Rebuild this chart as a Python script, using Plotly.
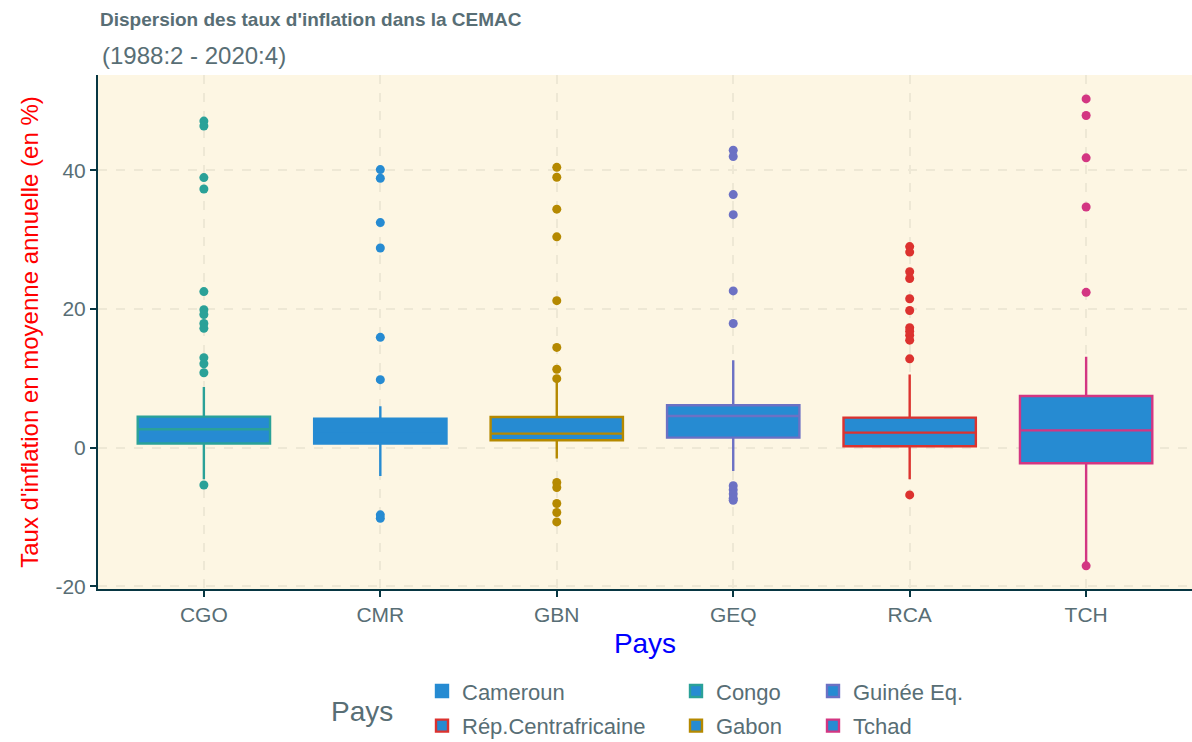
import plotly.graph_objects as go

# Country codes on the x axis and their display names
codes = ["CGO", "CMR", "GBN", "GEQ", "RCA", "TCH"]
names = ["Congo", "Cameroun", "Gabon", "Guinée Eq.", "Rép.Centrafricaine", "Tchad"]
outline = ["#2aa198", "#268bd2", "#b58900", "#6c71c4", "#dc322f", "#d33682"]

# Box statistics (annual average inflation, %)
q1 = [0.58, 0.58, 1.05, 1.44, 0.19, -2.26]
median = [2.64, 2.30, 2.02, 4.55, 2.16, 2.49]
q3 = [4.47, 4.18, 4.41, 6.10, 4.32, 7.44]
lowerfence = [-4.57, -4.09, -1.59, -3.37, -4.57, -16.5]
upperfence = [8.73, 5.95, 9.37, 12.6, 10.56, 13.1]

# Outlying observations per country
out_cgo = [47.1, 46.4, 38.95, 37.3, 22.5, 19.9, 19.2, 17.9, 17.2, 12.97, 12.1, 10.8, -5.4]
out_cmr = [40.1, 38.85, 32.46, 28.8, 15.9, 9.8, -9.7, -10.2]
out_gbn = [40.43, 39.0, 34.4, 30.4, 21.2, 14.45, 11.3, 9.94, -5.04, -5.76, -8.07, -9.37, -10.72]
out_geq = [42.9, 42.0, 36.5, 33.6, 22.6, 17.9, -5.5, -6.1, -6.7, -7.3, -7.6]
out_rca = [29.0, 28.2, 25.36, 24.4, 21.47, 19.78, 17.3, 16.8, 16.2, 15.5, 12.8, -6.83]
out_tch = [50.3, 47.9, 41.8, 34.7, 22.4, -17.06]
outliers = [out_cgo, out_cmr, out_gbn, out_geq, out_rca, out_tch]

# Y tick labels
y_ticks = [-20, 0, 20, 40]
y_ticklabels = ["-20", "0", "20", "40"]

# Legend layout: one small legend per column
legend_cols = {"Cameroun": "legend", "Rép.Centrafricaine": "legend",
               "Congo": "legend2", "Gabon": "legend2",
               "Guinée Eq.": "legend3", "Tchad": "legend3"}
legend_order = ["Cameroun", "Rép.Centrafricaine", "Congo", "Gabon", "Guinée Eq.", "Tchad"]

FILL = "#268bd2"
TXT = "#586e75"
AXIS = "#073642"
GRID = "#eee8d5"
BG = "#fdf6e3"
FONT = "Liberation Sans, Arial, sans-serif"

fig = go.Figure()

for name in legend_order:
    i = names.index(name)
    fig.add_trace(go.Box(
        x=[codes[i]], q1=[q1[i]], median=[median[i]], q3=[q3[i]],
        lowerfence=[lowerfence[i]], upperfence=[upperfence[i]],
        name=name, legend=legend_cols[name], legendgroup=name,
        legendrank=legend_order.index(name) + 1,
        fillcolor=FILL, line=dict(color=outline[i], width=2.4),
        width=0.75, whiskerwidth=0, boxpoints=False, hoverinfo="skip",
    ))

for i, code in enumerate(codes):
    fig.add_trace(go.Scatter(
        x=[code] * len(outliers[i]), y=outliers[i], mode="markers",
        marker=dict(color=outline[i], size=9), showlegend=False, hoverinfo="skip",
    ))

legend_common = dict(orientation="v", yanchor="top", xanchor="left", y=-0.158,
                     bgcolor="rgba(0,0,0,0)", tracegroupgap=3,
                     font=dict(family=FONT, size=22, color=TXT))

PANEL_W = 1094
PANEL_H = 514.5

fig.update_layout(
    width=1192, height=742,
    margin=dict(l=98, r=0, t=75, b=152.5, autoexpand=False),
    paper_bgcolor="white", plot_bgcolor=BG,
    font=dict(family=FONT, color=TXT),
    title=dict(text="<b>Dispersion des taux d'inflation dans la CEMAC</b>",
               x=100 / 1192, xanchor="left", xref="container",
               y=1 - 19 / 742, yanchor="middle", yref="container",
               font=dict(family=FONT, size=19, color=TXT)),
    annotations=[
        dict(text="(1988:2 - 2020:4)", x=0.002, xanchor="left", xref="paper",
             y=1 + 20 / PANEL_H, yanchor="middle", yref="paper", showarrow=False,
             font=dict(family=FONT, size=24, color=TXT)),
        dict(text="Pays", x=(329 - 98) / PANEL_W, xanchor="left", xref="paper",
             y=-(712 - 75 - PANEL_H) / PANEL_H, yanchor="middle", yref="paper",
             showarrow=False, font=dict(family=FONT, size=28, color=TXT)),
    ],
    xaxis=dict(
        categoryorder="array", categoryarray=codes, range=[-0.6, 5.6],
        title=dict(text="Pays", font=dict(family=FONT, size=28, color="blue"), standoff=8),
        tickfont=dict(family=FONT, size=21, color=TXT),
        showline=True, linecolor=AXIS, linewidth=2,
        ticks="outside", ticklen=6, tickwidth=2, tickcolor=AXIS,
        showgrid=True, gridcolor=GRID, griddash="dash", gridwidth=1.5,
    ),
    yaxis=dict(
        range=[-20.4, 53.75], tickvals=y_ticks, ticktext=y_ticklabels,
        title=dict(text="Taux d'inflation en moyenne annuelle (en %)",
                   font=dict(family=FONT, size=24, color="red"), standoff=10),
        tickfont=dict(family=FONT, size=21, color=TXT),
        showline=True, linecolor=AXIS, linewidth=2, zeroline=False,
        ticks="outside", ticklen=6, tickwidth=2, tickcolor=AXIS,
        showgrid=True, gridcolor=GRID, griddash="dash", gridwidth=1.5,
    ),
    legend=dict(x=(422 - 98) / PANEL_W, **legend_common),
    legend2=dict(x=(676 - 98) / PANEL_W, **legend_common),
    legend3=dict(x=(813 - 98) / PANEL_W, **legend_common),
)

fig.write_html("out.html")
